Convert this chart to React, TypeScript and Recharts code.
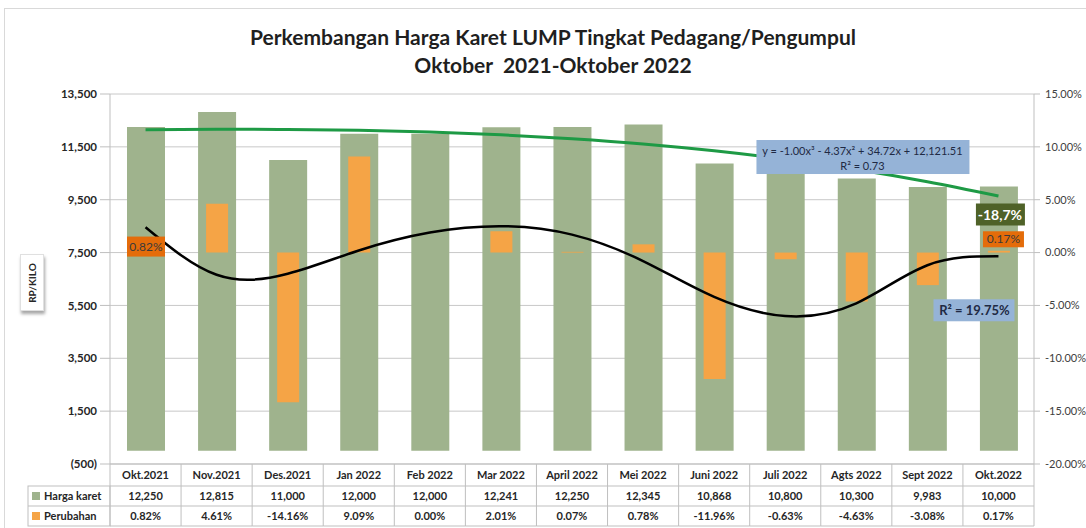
import React from 'react';
import { ComposedChart, Bar, Line, XAxis, YAxis, CartesianGrid, LabelList } from 'recharts';

const months = ['Okt.2021', 'Nov.2021', 'Des.2021', 'Jan 2022', 'Feb 2022', 'Mar 2022', 'April 2022', 'Mei 2022', 'Juni 2022', 'Juli 2022', 'Agts 2022', 'Sept 2022', 'Okt.2022'];
const hargaKaret = [12250, 12815, 11000, 12000, 12000, 12241, 12250, 12345, 10868, 10800, 10300, 9983, 10000];
const perubahan = [0.82, 4.61, -14.16, 9.09, 0.0, 2.01, 0.07, 0.78, -11.96, -0.63, -4.63, -3.08, 0.17];
// trendlines
const trendHarga = [12150, 12165, 12160, 12125, 12060, 11955, 11805, 11610, 11350, 11030, 10645, 10180, 9640];
const trendPerubahan = [2.4, -2.1, -2.0, 0.2, 1.9, 2.5, 1.7, -0.8, -4.2, -6.0, -4.8, -1.2, -0.35];
const leftTicks = [-500, 1500, 3500, 5500, 7500, 9500, 11500, 13500];
const rightTicks = [-20, -15, -10, -5, 0, 5, 10, 15];

const FONT = 'Lato, "Liberation Sans", sans-serif';
const GREEN = '#9FB38D';
const ORANGE = '#F5A446';
const BORDER = '#BFBFBF';
const CELL_W = 924 / 13;
const LAST = months.length - 1;

const data = months.map((m, i) => ({
  month: m,
  harga: hargaKaret[i],
  perubahan: perubahan[i],
  trendHarga: trendHarga[i],
  trendPerubahan: trendPerubahan[i],
}));

const fmtLeft = (v: number) => (v < 0 ? `(${Math.abs(v).toLocaleString('en-US')})` : v.toLocaleString('en-US'));
const fmtPct = (v: number) => `${v.toFixed(2)}%`;

// data table drawn as the category axis ticks
const TableTick = (props: any) => {
  const { x, y, payload } = props;
  const i = payload.index;
  const l = x - CELL_W / 2;
  const r = x + CELL_W / 2;
  return (
    <g fontFamily={FONT} fontSize={11} fontWeight={700} fill="#262626">
      <line x1={r} y1={y} x2={r} y2={y + 62} stroke={BORDER} />
      {i === 0 && <line x1={l} y1={y} x2={l} y2={y + 62} stroke={BORDER} />}
      <line x1={l} y1={y + 22} x2={r} y2={y + 22} stroke={BORDER} />
      <line x1={l} y1={y + 42} x2={r} y2={y + 42} stroke={BORDER} />
      <line x1={l} y1={y + 62} x2={r} y2={y + 62} stroke={BORDER} />
      <text x={x} y={y + 15} textAnchor="middle">{months[i]}</text>
      <text x={x} y={y + 36} textAnchor="middle">{hargaKaret[i].toLocaleString('en-US')}</text>
      <text x={x} y={y + 56} textAnchor="middle">{fmtPct(perubahan[i])}</text>
      {i === 0 && (
        <g>
          <rect x={l - 82} y={y + 22} width={82} height={40} fill="none" stroke={BORDER} />
          <line x1={l - 82} y1={y + 42} x2={l} y2={y + 42} stroke={BORDER} />
          <rect x={l - 78} y={y + 28} width={8} height={8} fill={GREEN} />
          <text x={l - 66} y={y + 36}>Harga karet</text>
          <rect x={l - 78} y={y + 48} width={8} height={8} fill={ORANGE} />
          <text x={l - 66} y={y + 56}>Perubahan</text>
        </g>
      )}
    </g>
  );
};

const pctBox = (cx: number, cy: number, w: number, h: number, text: string) => (
  <g>
    <rect x={cx - w / 2} y={cy - h / 2} width={w} height={h} fill="#E46C0A" />
    <text x={cx} y={cy + 4} textAnchor="middle" fontFamily={FONT} fontSize={12} fill="#3A3A3A">{text}</text>
  </g>
);

// orange data label on the first "Perubahan" bar
const PctLabel = (props: any) => {
  const { x, y, width, height, index, value } = props;
  if (index !== 0) return null;
  return pctBox(x + width / 2, y + height - 6, 38, 20, fmtPct(Number(value)));
};

const DropLabel = (props: any) => {
  const { x, y, width, index } = props;
  if (index !== LAST) return null;
  const cx = x + width / 2 + 1;
  const cy = y + 28;
  return (
    <g>
      <rect x={cx - 24} y={cy - 11} width={49} height={22} fill="#4F6228" />
      <text x={cx} y={cy + 5} textAnchor="middle" fontFamily={FONT} fontSize={14} fontWeight={700} fill="#FFFFFF">-18,7%</text>
    </g>
  );
};

const EqLabel = (props: any) => {
  const { x, y, index } = props;
  if (index !== LAST) return null;
  const cx = x - 136;
  const cy = y - 39;
  return (
    <g fontFamily={FONT} fontSize={11} fill="#1F2A44">
      <rect x={cx - 106} y={cy - 17} width={213} height={34} fill="#95B3D7" />
      <text x={cx} y={cy - 2} textAnchor="middle">y = -1.00x³ - 4.37x² + 34.72x + 12,121.51</text>
      <text x={cx} y={cy + 13} textAnchor="middle">R² = 0.73</text>
    </g>
  );
};

// R² box of the black trendline, plus the last month's change label just above its end
const R2Label = (props: any) => {
  const { x, y, index } = props;
  if (index !== LAST) return null;
  const cx = x - 24;
  const cy = y + 54;
  return (
    <g>
      {pctBox(x + 5, y - 17, 41, 16, fmtPct(perubahan[LAST]))}
      <rect x={cx - 41} y={cy - 11} width={81} height={22} fill="#95B3D7" />
      <text x={cx} y={cy + 5} textAnchor="middle" fontFamily={FONT} fontSize={13} fontWeight={700} fill="#1F2A44">R² = 19.75%</text>
    </g>
  );
};

export default function App() {
  return (
    <div style={{ position: 'absolute', left: 0, top: 0, width: 1086, height: 528, background: '#fff', fontFamily: FONT, overflow: 'hidden' }}>
      <div style={{ position: 'absolute', left: 4, top: 8, width: 1100, height: 540, borderTop: '1px solid #D9D9D9', borderLeft: '1px solid #D9D9D9' }} />
      <div style={{ position: 'absolute', left: 10, top: 23, width: 1086, textAlign: 'center', fontSize: 21, fontWeight: 700, lineHeight: '28px', color: '#1F1F1F' }}>
        <div>Perkembangan Harga Karet LUMP Tingkat Pedagang/Pengumpul</div>
        <div>Oktober&nbsp; 2021-Oktober 2022</div>
      </div>
      <div style={{ position: 'absolute', left: 20, top: 254, width: 22, height: 55, background: '#fff', boxShadow: '1px 3px 3px rgba(0,0,0,0.35)', border: '1px solid #E0E0E0' }}>
        <div style={{ position: 'absolute', left: '50%', top: '50%', transform: 'translate(-50%, -50%) rotate(-90deg)', fontSize: 10, fontWeight: 700, whiteSpace: 'nowrap', color: '#262626' }}>RP/KILO</div>
      </div>
      <div style={{ position: 'absolute', left: 0, top: 0 }}>
        <ComposedChart width={1086} height={528} data={data} margin={{ top: 94, right: 0, bottom: 0, left: 0 }}>
          <CartesianGrid xAxisId="a" yAxisId="left" vertical={false} stroke="#C8C8C8" />
          <XAxis xAxisId="a" dataKey="month" height={64} interval={0} tickLine={false} tickSize={0} tickMargin={0} axisLine={{ stroke: BORDER }} tick={<TableTick />} />
          <XAxis xAxisId="b" dataKey="month" hide />
          <YAxis yAxisId="left" width={110} domain={[-500, 13500]} ticks={leftTicks} tickFormatter={fmtLeft} tickSize={10} tickMargin={3} axisLine={{ stroke: BORDER }} tickLine={{ stroke: BORDER }} tick={{ fill: '#262626', fontSize: 11.5, fontWeight: 700, fontFamily: FONT }} interval={0} />
          <YAxis yAxisId="right" orientation="right" width={52} domain={[-20, 15]} ticks={rightTicks} tickFormatter={fmtPct} tickSize={6} tickMargin={5} axisLine={{ stroke: BORDER }} tickLine={{ stroke: BORDER }} tick={{ fill: '#404040', fontSize: 11, fontFamily: FONT, textAnchor: 'start' }} interval={0} />
          <Bar xAxisId="a" yAxisId="left" dataKey="harga" fill={GREEN} barSize={38} isAnimationActive={false}>
            <LabelList dataKey="harga" content={<DropLabel />} />
          </Bar>
          <Bar xAxisId="b" yAxisId="right" dataKey="perubahan" fill={ORANGE} barSize={22} isAnimationActive={false}>
            <LabelList dataKey="perubahan" content={<PctLabel />} />
          </Bar>
          <Line xAxisId="a" yAxisId="left" dataKey="trendHarga" type="monotone" stroke="#1E9A45" strokeWidth={3} dot={false} isAnimationActive={false}>
            <LabelList dataKey="trendHarga" content={<EqLabel />} />
          </Line>
          <Line xAxisId="a" yAxisId="right" dataKey="trendPerubahan" type="natural" stroke="#000000" strokeWidth={2.5} dot={false} isAnimationActive={false}>
            <LabelList dataKey="trendPerubahan" content={<R2Label />} />
          </Line>
        </ComposedChart>
      </div>
    </div>
  );
}
